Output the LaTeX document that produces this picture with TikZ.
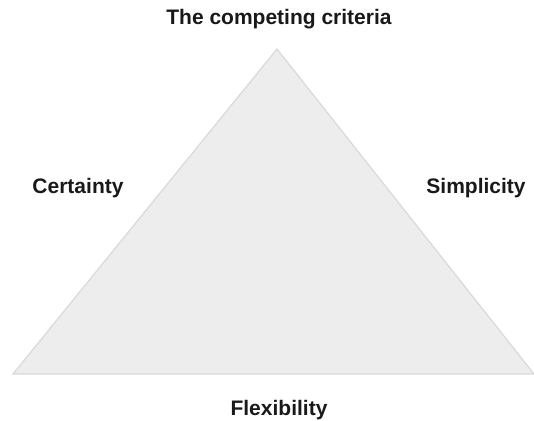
\documentclass[tikz,border=0pt]{standalone}
\usepackage{fontspec}
\setmainfont{Liberation Sans}
\begin{document}
\begin{tikzpicture}[x=1pt,y=-1pt,
  lbl/.style={font=\fontsize{21}{24}\selectfont\bfseries, text=black!90, inner sep=0pt, anchor=base},
  tri/.style={fill=black!7, draw=black!15, line width=1.2pt, line join=miter}]
  \useasboundingbox (0,0) rectangle (534,420);
  % criteria triangle
  \coordinate (apex) at (277,49);
  \coordinate (bl) at (13,374);
  \coordinate (br) at (534,374);
  \draw[tri] (apex) -- (br) -- (bl) -- cycle;
  % labels
  \node[lbl] (title) at (279,25) {The competing criteria};
  \node[lbl] (cert) at (78,193) {Certainty};
  \node[lbl] (simp) at (476,193) {Simplicity};
  \node[lbl] (flex) at (279,415) {Flexibility};
\end{tikzpicture}
\end{document}
